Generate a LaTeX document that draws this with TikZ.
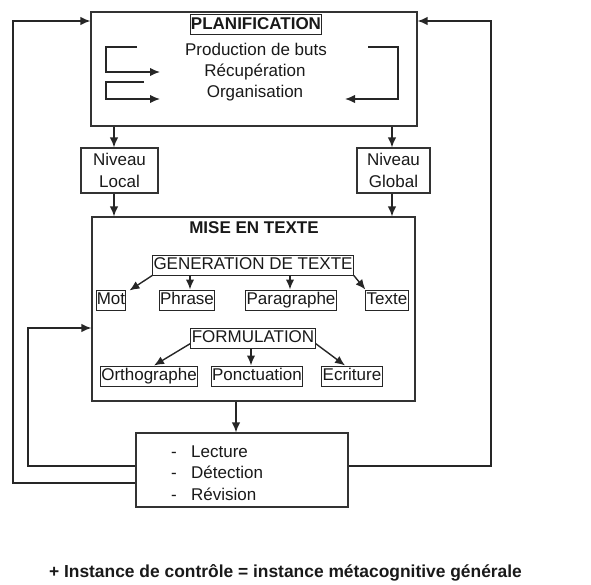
\documentclass[tikz,border=0pt]{standalone}
\usepackage{fontspec}
\setmainfont{Liberation Sans}
\usetikzlibrary{arrows.meta}

\begin{document}
\begin{tikzpicture}[x=1pt, y=-1pt,
  every node/.style={font=\fontsize{17}{21.5}\selectfont, text=black!90},
  boite/.style={draw=black!80, line width=1.2pt, inner sep=0pt},
  cadre/.style={draw=black!85, line width=1pt, inner xsep=0.8pt, inner ysep=1.5pt,
    text height=13pt, text depth=4pt},
  fleche/.style={-{Latex[length=10pt,width=8.5pt]}, draw=black!85, line width=1.4pt},
  trait/.style={draw=black!85, line width=1.4pt}]
\useasboundingbox (0,0) rectangle (591,585);

% planification
\path (254,69) node[boite, minimum width=326pt, minimum height=114pt] (plan) {};
\path (256,25) node[cadre, font=\fontsize{17}{21.5}\selectfont\bfseries] (planT) {PLANIFICATION};
\path (256,49) node (buts) {Production de buts};
\path (255,72) node (recup) {Récupération};
\path (255,93) node (orga) {Organisation};
\coordinate (b1) at (137,47);
\coordinate (b1e) at (160,72);
\coordinate (b2) at (144,82);
\coordinate (b2e) at (160,99);
\coordinate (b3) at (368,47);
\coordinate (b3e) at (345,99);
\draw[fleche] (b1) -- (106,47) |- (b1e);
\draw[fleche] (b2) -- (106,82) |- (b2e);
\draw[fleche] (b3) -- (398,47) |- (b3e);

% niveaux
\path (119.5,170.5) node[boite, minimum width=77pt, minimum height=45pt, align=center] (local) {Niveau\\Local};
\path (393.5,170.5) node[boite, minimum width=73pt, minimum height=45pt, align=center] (global) {Niveau\\Global};

% mise en texte
\path (253.5,309) node[boite, minimum width=323pt, minimum height=184pt] (mise) {};
\path (254,228) node[font=\fontsize{17}{21.5}\selectfont\bfseries] (miseT) {MISE EN TEXTE};
\path (253,265) node[cadre] (gen) {GENERATION DE TEXTE};
\path (111,300) node[cadre] (mot) {Mot};
\path (187,300) node[cadre] (phrase) {Phrase};
\path (291,300) node[cadre] (para) {Paragraphe};
\path (387,300) node[cadre] (texte) {Texte};
\path (253,338) node[cadre] (form) {FORMULATION};
\path (149,376) node[cadre] (ortho) {Orthographe};
\path (257,376) node[cadre] (ponct) {Ponctuation};
\path (352,376) node[cadre] (ecri) {Ecriture};

\draw[fleche] (gen.south west) -- ([xshift=3pt,yshift=-1pt]mot.north east);
\draw[fleche] ([xshift=3pt]phrase.north |- gen.south) -- ([xshift=3pt]phrase.north);
\draw[fleche] ([xshift=-1pt]para.north |- gen.south) -- ([xshift=-1pt]para.north);
\draw[fleche] (gen.south east) -- (texte.north west);
\draw[fleche] ([yshift=5pt]form.south west) -- ([xshift=5pt]ortho.north);
\draw[fleche] ([xshift=-2pt]form.south) -- ([xshift=-2pt]form.south |- ponct.north);
\draw[fleche] ([yshift=5pt]form.south east) -- ([xshift=-7pt]ecri.north);

% relecture
\path (242,470) node[boite, minimum width=212pt, minimum height=74pt] (lect) {};
\path (171,473) node[anchor=west, align=left, inner sep=0pt] (lectT)
  {\makebox[20pt][l]{-}Lecture\\\makebox[20pt][l]{-}Détection\\\makebox[20pt][l]{-}Révision};

% liaisons
\draw[fleche] ([xshift=-5.5pt]local.north |- plan.south) -- ([xshift=-5.5pt]local.north);
\draw[fleche] ([xshift=-5.5pt]local.south) -- ([xshift=-5.5pt]local.south |- mise.north);
\draw[fleche] ([xshift=-1.5pt]global.north |- plan.south) -- ([xshift=-1.5pt]global.north);
\draw[fleche] ([xshift=-1.5pt]global.south) -- ([xshift=-1.5pt]global.south |- mise.north);
\draw[fleche] ([xshift=-6pt]lect.north |- mise.south) -- ([xshift=-6pt]lect.north);

% boucles de controle
\coordinate (coinA) at (13,21);
\coordinate (coinB) at (28,328);
\coordinate (coinC) at (491,21);
\draw[fleche] ([yshift=-13pt]lect.west) -| (coinA) -- (coinA -| plan.west);
\draw[fleche] ([yshift=4pt]lect.west) -| (coinB) -- (coinB -| mise.west);
\draw[fleche] ([yshift=4pt]lect.east) -| (coinC) -- (coinC -| plan.east);

\path (285.5,573) node[font=\fontsize{17.4}{21.5}\selectfont\bfseries] (instance)
  {+ Instance de contrôle = instance métacognitive générale};
\end{tikzpicture}
\end{document}
